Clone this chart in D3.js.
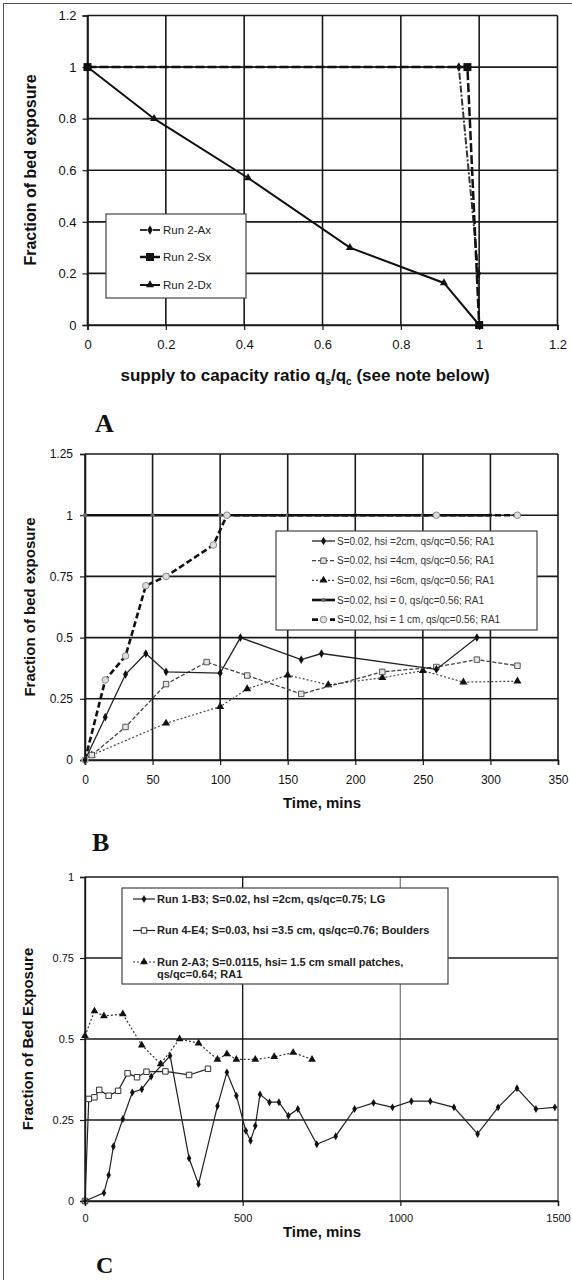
<!DOCTYPE html>
<html><head><meta charset="utf-8">
<script src="https://cdn.jsdelivr.net/npm/d3@7"></script>
<style>
body{margin:0;background:#fff}
svg{display:block}
</style>
</head><body>
<svg id="c" width="572" height="1280" font-family="'Liberation Sans',Arial,sans-serif"></svg>
<script>
// ---------- DATA ----------
// Panel A
const aTicksX = [0, 0.2, 0.4, 0.6, 0.8, 1, 1.2];
const aTicksY = [0, 0.2, 0.4, 0.6, 0.8, 1, 1.2];
const aAxX = [0, 0.948, 0.998, 1];
const aAxY = [1, 1, 0.2, 0];
const aSxX = [0, 0.97, 1];
const aSxY = [1, 1, 0];
const aDxX = [0, 0.17, 0.41, 0.67, 0.91, 1];
const aDxY = [1, 0.8, 0.57, 0.3, 0.163, 0];
const aLabels = ["Run 2-Ax", "Run 2-Sx", "Run 2-Dx"];

// Panel B
const bTicksX = [0, 50, 100, 150, 200, 250, 300, 350];
const bTicksY = [0, 0.25, 0.5, 0.75, 1, 1.25];
const b1T = [0, 15, 30, 45, 60, 100, 115, 160, 175, 260, 290];
const b1V = [0, 0.175, 0.35, 0.435, 0.36, 0.355, 0.5, 0.41, 0.435, 0.37, 0.5];
const b2T = [5, 30, 60, 90, 120, 160, 220, 260, 290, 320];
const b2V = [0.02, 0.135, 0.31, 0.4, 0.345, 0.27, 0.36, 0.38, 0.41, 0.385];
const b3T = [5, 60, 100, 120, 150, 180, 220, 250, 280, 320];
const b3V = [0.02, 0.15, 0.218, 0.29, 0.347, 0.307, 0.336, 0.365, 0.318, 0.322];
const b4T = [0, 50, 100, 150, 200, 250, 300];
const b4V = [1, 1, 1, 1, 1, 1, 1];
const b5T = [0, 15, 30, 45, 60, 95, 105, 260, 320];
const b5V = [0, 0.327, 0.425, 0.712, 0.75, 0.878, 1, 1, 1];
const bLabels = [
  "S=0.02, hsi =2cm, qs/qc=0.56; RA1",
  "S=0.02, hsi =4cm, qs/qc=0.56; RA1",
  "S=0.02, hsi =6cm, qs/qc=0.56; RA1",
  "S=0.02, hsi = 0, qs/qc=0.56; RA1",
  "S=0.02, hsi = 1 cm, qs/qc=0.56; RA1"
];

// Panel C
const cTicksX = [0, 500, 1000, 1500];
const cTicksY = [0, 0.25, 0.5, 0.75, 1];
const c1T = [0, 60, 75, 90, 120, 150, 180, 210, 270, 330, 360, 420, 450, 480, 510, 525, 540, 555, 585, 615, 645, 675, 735, 795, 855, 915, 975, 1035, 1095, 1170, 1245, 1310, 1370, 1430, 1490];
const c1V = [0, 0.025, 0.08, 0.168, 0.253, 0.335, 0.345, 0.384, 0.448, 0.132, 0.052, 0.293, 0.397, 0.325, 0.217, 0.186, 0.232, 0.329, 0.305, 0.305, 0.263, 0.284, 0.175, 0.2, 0.284, 0.303, 0.289, 0.308, 0.308, 0.289, 0.207, 0.289, 0.348, 0.284, 0.289];
const c2T = [0, 12, 30, 45, 75, 105, 135, 165, 195, 255, 330, 390];
const c2V = [0, 0.315, 0.32, 0.343, 0.325, 0.34, 0.394, 0.382, 0.399, 0.4, 0.389, 0.408];
const c3T = [0, 30, 60, 120, 180, 240, 300, 360, 420, 450, 480, 540, 600, 660, 720];
const c3V = [0.51, 0.586, 0.571, 0.577, 0.481, 0.423, 0.5, 0.487, 0.437, 0.454, 0.437, 0.437, 0.445, 0.458, 0.437];
const cLabels = [
  ["Run 1-B3; S=0.02, hsl =2cm, qs/qc=0.75; LG"],
  ["Run 4-E4; S=0.03, hsi =3.5 cm, qs/qc=0.76; Boulders"],
  ["Run 2-A3; S=0.0115, hsi= 1.5 cm small patches,", "qs/qc=0.64; RA1"]
];

// ---------- DRAWING ----------
const SANS = "'Liberation Sans',Arial,sans-serif";
const SERIF = "'Liberation Serif','Times New Roman',serif";
const svg = d3.select("#c");
svg.append("rect").attr("x", 3.5).attr("y", 3.5).attr("width", 640).attr("height", 1320)
  .attr("fill", "none").attr("stroke", "#555").attr("stroke-width", 1);

function panel(o) {
  const g = svg.append("g");
  const x = d3.scaleLinear().domain(o.xd).range(o.xr);
  const y = d3.scaleLinear().domain(o.yd).range(o.yr);
  g.selectAll(null).data(o.xTicks).join("line")
    .attr("x1", d => x(d)).attr("x2", d => x(d))
    .attr("y1", o.yr[0]).attr("y2", o.yr[1])
    .attr("stroke", d => (o.vGridColor ? o.vGridColor(d) : "#1a1a1a"))
    .attr("stroke-width", o.gridW);
  g.selectAll(null).data(o.yTicks).join("line")
    .attr("y1", d => y(d)).attr("y2", d => y(d))
    .attr("x1", o.xr[0]).attr("x2", o.xr[1])
    .attr("stroke", "#1a1a1a").attr("stroke-width", o.gridW);
  const ax = g.append("g").attr("transform", `translate(0,${o.yr[0]})`)
    .call(d3.axisBottom(x).tickValues(o.xTicks).tickSize(5).tickPadding(o.xPad).tickFormat(o.xFmt));
  const ay = g.append("g").attr("transform", `translate(${o.xr[0]},0)`)
    .call(d3.axisLeft(y).tickValues(o.yTicks).tickSize(5).tickPadding(o.yPad).tickFormat(o.yFmt));
  [ax, ay].forEach(a => {
    a.attr("font-family", SANS).attr("font-size", o.tickFont);
    a.select(".domain").attr("stroke", "#1a1a1a").attr("stroke-width", o.gridW);
    a.selectAll(".tick line").attr("stroke", "#1a1a1a").attr("stroke-width", 1.2);
    a.selectAll("text").attr("fill", "#111");
  });
  return {g, x, y};
}

function series(p, xs, ys, st) {
  const pts = xs.map((d, i) => [d, ys[i]]);
  p.g.append("path").datum(pts)
    .attr("d", d3.line().x(d => p.x(d[0])).y(d => p.y(d[1])))
    .attr("fill", "none").attr("stroke", st.color).attr("stroke-width", st.width)
    .attr("stroke-dasharray", st.dash || null);
  p.g.selectAll(null).data(pts).join("path")
    .attr("transform", d => `translate(${p.x(d[0])},${p.y(d[1])})`)
    .attr("d", d3.symbol().type(st.sym).size(st.size))
    .attr("fill", st.fill).attr("stroke", st.mstroke || "none").attr("stroke-width", st.mw || 1);
}

function legend(box, items, opt) {
  const g = svg.append("g");
  g.append("rect").attr("x", box[0]).attr("y", box[1]).attr("width", box[2] - box[0]).attr("height", box[3] - box[1])
    .attr("fill", "#fff").attr("stroke", "#444").attr("stroke-width", 1.2);
  items.forEach((it, i) => {
    const yy = opt.ys[i];
    const st = it.st;
    g.append("line").attr("x1", opt.l1).attr("x2", opt.l2).attr("y1", yy).attr("y2", yy)
      .attr("stroke", st.color).attr("stroke-width", st.width).attr("stroke-dasharray", st.dash || null);
    g.append("path").attr("transform", `translate(${(opt.l1 + opt.l2) / 2},${yy})`)
      .attr("d", d3.symbol().type(st.sym).size(st.size))
      .attr("fill", st.fill).attr("stroke", st.mstroke || "none").attr("stroke-width", st.mw || 1);
    const lines = Array.isArray(it.label) ? it.label : [it.label];
    lines.forEach((t, k) => {
      g.append("text").attr("x", opt.tx).attr("y", yy + k * opt.lh).attr("dy", "0.35em")
        .attr("font-family", SANS)
        .attr("font-size", opt.fs).attr("font-weight", opt.fw).attr("fill", opt.fill).text(t);
    });
  });
}

function ytitle(txt, cx, cy, fs) {
  svg.append("text").attr("transform", `translate(${cx},${cy}) rotate(-90)`)
    .attr("font-family", SANS)
    .attr("text-anchor", "middle").attr("dy", "0.35em")
    .attr("font-size", fs).attr("font-weight", "bold").attr("fill", "#111").text(txt);
}
function xtitle(txt, cx, cy, fs) {
  svg.append("text").attr("x", cx).attr("y", cy).attr("dy", "0.35em").attr("text-anchor", "middle")
    .attr("font-family", SANS)
    .attr("font-size", fs).attr("font-weight", "bold").attr("fill", "#111").text(txt);
}
function plabel(txt, x, y, fs) {
  svg.append("text").attr("x", x).attr("y", y)
    .style("font-family", SERIF)
    .attr("font-size", fs).attr("font-weight", "bold").attr("fill", "#111").text(txt);
}

// ---- Panel A ----
const fA = d => (d === 0 ? "0" : d3.format("")(d));
const pA = panel({xd: [0, 1.2], xr: [87.5, 557.5], yd: [0, 1.2], yr: [325, 15.5],
  xTicks: aTicksX, yTicks: aTicksY, xFmt: fA, yFmt: fA, xPad: 10, yPad: 6, tickFont: 13, gridW: 1.6});
const stAx = {color: "#333", width: 2, dash: "7,2,2,2", sym: d3.symbolDiamond, size: 26, fill: "#111"};
const stSx = {color: "#111", width: 2.5, dash: "9,3", sym: d3.symbolSquare, size: 64, fill: "#111"};
const stDx = {color: "#111", width: 2, sym: d3.symbolTriangle, size: 28, fill: "#111"};
series(pA, aAxX, aAxY, stAx);
series(pA, aSxX, aSxY, stSx);
series(pA, aDxX, aDxY, stDx);
legend([106, 214, 246, 298], [{label: aLabels[0], st: stAx}, {label: aLabels[1], st: stSx}, {label: aLabels[2], st: stDx}],
  {ys: [230, 257, 285], l1: 140, l2: 160, tx: 163, fs: 11.5, fw: "normal", fill: "#222", lh: 12});
ytitle("Fraction of bed exposure", 30, 170, 16);
const tA = svg.append("text").attr("x", 305).attr("y", 375).attr("dy", "0.35em").attr("text-anchor", "middle")
  .attr("font-family", SANS)
  .attr("font-size", 17).attr("font-weight", "bold").attr("fill", "#111");
tA.append("tspan").text("supply to capacity ratio q");
tA.append("tspan").attr("font-size", 10).attr("dy", 4).text("s");
tA.append("tspan").attr("dy", -4).text("/q");
tA.append("tspan").attr("font-size", 10).attr("dy", 4).text("c");
tA.append("tspan").attr("dy", -4).text(" (see note below)");
plabel("A", 95, 432, 26);

// ---- Panel B ----
const pB = panel({xd: [0, 350], xr: [85, 558], yd: [0, 1.25], yr: [760, 454],
  xTicks: bTicksX, yTicks: bTicksY, xFmt: d3.format("d"), yFmt: d => String(d), xPad: 10, yPad: 7, tickFont: 12, gridW: 1.6});
const stB1 = {color: "#222", width: 1.3, sym: d3.symbolDiamond, size: 22, fill: "#111"};
const stB2 = {color: "#444", width: 1.3, dash: "4,2", sym: d3.symbolSquare, size: 30, fill: "#e4e4e4", mstroke: "#555", mw: 1};
const stB3 = {color: "#444", width: 1.2, dash: "2,2", sym: d3.symbolTriangle, size: 28, fill: "#111"};
const stB4 = {color: "#111", width: 2.6, sym: d3.symbolCircle, size: 14, fill: "#666"};
const stB5 = {color: "#111", width: 2.6, dash: "6,3", sym: d3.symbolCircle, size: 34, fill: "#ddd", mstroke: "#888", mw: 1};
series(pB, b4T, b4V, stB4);
series(pB, b5T, b5V, stB5);
series(pB, b3T, b3V, stB3);
series(pB, b2T, b2V, stB2);
series(pB, b1T, b1V, stB1);
legend([276, 531, 537, 630], [
  {label: bLabels[0], st: stB1}, {label: bLabels[1], st: stB2}, {label: bLabels[2], st: stB3},
  {label: bLabels[3], st: stB4}, {label: bLabels[4], st: stB5}],
  {ys: [541, 560.7, 580.3, 600, 619.6], l1: 312, l2: 335, tx: 337, fs: 10, fw: "normal", fill: "#333", lh: 12});
ytitle("Fraction of bed exposure", 30, 607, 15);
xtitle("Time, mins", 322, 803, 15);
plabel("B", 92, 851, 26);

// ---- Panel C ----
const pC = panel({xd: [0, 1500], xr: [85, 558], yd: [0, 1], yr: [1201, 877],
  xTicks: cTicksX, yTicks: cTicksY, xFmt: d3.format("d"), yFmt: d => String(d), xPad: 8, yPad: 6, tickFont: 11, gridW: 1.4,
  vGridColor: d => (d === 1000 ? "#888" : (d === 1500 ? "#555" : "#1a1a1a"))});
const stC1 = {color: "#222", width: 1.2, sym: d3.symbolDiamond, size: 18, fill: "#111"};
const stC2 = {color: "#222", width: 1.2, sym: d3.symbolSquare, size: 30, fill: "#fff", mstroke: "#333", mw: 1};
const stC3 = {color: "#333", width: 1.2, dash: "2,2", sym: d3.symbolTriangle, size: 26, fill: "#111"};
series(pC, c3T, c3V, stC3);
series(pC, c2T, c2V, stC2);
series(pC, c1T, c1V, stC1);
legend([122, 888, 448, 984], [
  {label: cLabels[0], st: stC1}, {label: cLabels[1], st: stC2}, {label: cLabels[2], st: stC3}],
  {ys: [899, 930.5, 962], l1: 133, l2: 155, tx: 157, fs: 11, fw: "bold", fill: "#222", lh: 12});
ytitle("Fraction of Bed Exposure", 28, 1039, 15);
xtitle("Time, mins", 322, 1232, 15);
plabel("C", 96, 1273, 24);
</script>
</body></html>
